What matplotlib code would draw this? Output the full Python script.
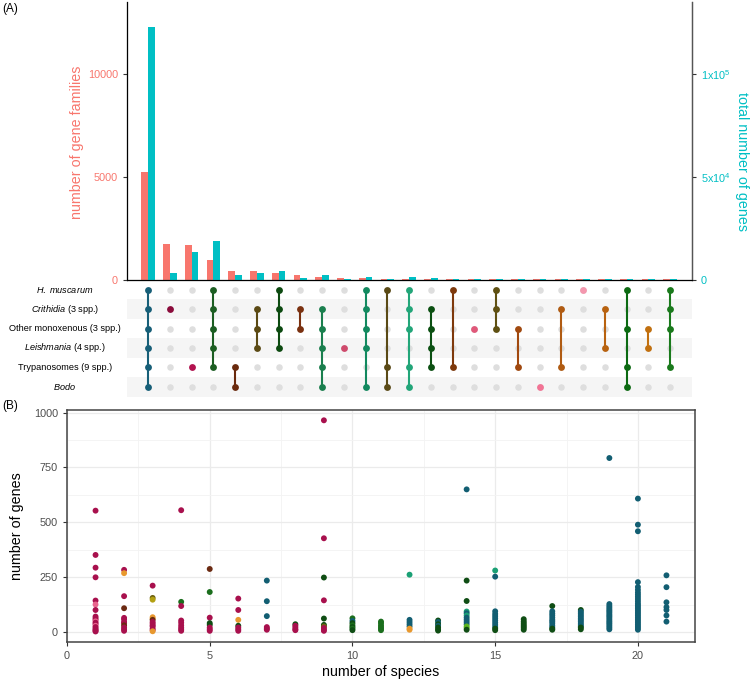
import numpy as np
import matplotlib
matplotlib.use("Agg")
import matplotlib.pyplot as plt
from matplotlib.ticker import MultipleLocator

plt.rcParams['font.family'] = ['Liberation Sans', 'DejaVu Sans']
plt.rcParams['mathtext.fontset'] = 'custom'
plt.rcParams['mathtext.rm'] = 'Liberation Sans'
plt.rcParams['mathtext.it'] = 'Liberation Sans:italic'

# --- data: upset part ---
set_labels = [r'$\it{H.\ muscarum}$', r'$\it{Crithidia}$ (3 spp.)', 'Other monoxenous (3 spp.)',
              r'$\it{Leishmania}$ (4 spp.)', 'Trypanosomes (9 spp.)', r'$\it{Bodo}$']

# rows: 0=H. muscarum, 1=Crithidia, 2=Other monoxenous, 3=Leishmania, 4=Trypanosomes, 5=Bodo
combos = [[0, 1, 2, 3, 4, 5], [1], [4], [0, 1, 2, 3, 4], [4, 5], [1, 2, 3], [0, 1, 2, 3], [1, 2],
          [1, 2, 3, 4, 5], [3], [0, 1, 2, 3, 5], [0, 4, 5], [0, 1, 2, 4, 5], [1, 2, 3, 4], [0, 4],
          [2], [0, 1, 2], [2, 4], [5], [1, 4], [0], [1, 3], [0, 2, 4, 5], [2, 3], [0, 1, 2, 4]]

n_families = [5210, 1750, 1655, 925, 405, 390, 325, 230, 115, 80, 65, 35, 30, 28, 25,
              22, 20, 18, 15, 13, 10, 7, 5, 4, 3]
n_genes = [122700, 3400, 13150, 18500, 2300, 3100, 3900, 600, 2400, 100, 1400, 350, 1000, 600, 150,
           30, 100, 60, 20, 50, 10, 60, 150, 30, 120]

combo_colors = ['#175f78', '#8b0b3b', '#b3124f', '#1c5e22', '#6a2a0d', '#5b4a14', '#0c4a10', '#7b3110',
                '#1a7f4e', '#cf4a6c', '#12895f', '#5a4a16', '#22a679', '#0b5012', '#7e390c', '#e0587a',
                '#5f5012', '#a1490f', '#f27495', '#b05b12', '#f497ae', '#b8620f', '#0c6a12', '#c2700f',
                '#1a7a1c']

# --- data: scatter part (number of species per family vs genes in family) ---
pal = {'crimson': '#a8104d', 'pink': '#e8658e', 'orange': '#e8982e', 'brown': '#6b2a12',
       'olive': '#6e6212', 'yellow': '#b3a012', 'green': '#1b6e1d', 'dkgreen': '#0f4d14',
       'teal': '#125e72', 'tealgreen': '#1aa075', 'ltgreen': '#5ab41e'}

sp_x = ([1] * 19 + [2] * 12 + [3] * 13 + [4] * 9 + [5] * 8 + [6] * 7 + [7] * 6 + [8] * 5 + [9] * 10
        + [10] * 7 + [11] * 6 + [12] * 7 + [13] * 7 + [14] * 13 + [15] * 12 + [16] * 7 + [17] * 12
        + [18] * 13 + [19] * 17 + [20] * 27 + [21] * 7)
sp_genes = [553, 351, 293, 249, 143, 125, 100, 70, 62, 55, 48, 42, 35, 28, 22, 15, 10, 5, 2,
            283, 268, 163, 108, 64, 57, 45, 40, 30, 20, 12, 5,
            211, 155, 147, 67, 60, 55, 45, 38, 30, 25, 15, 8, 3,
            555, 137, 118, 52, 42, 30, 20, 12, 5,
            287, 182, 65, 40, 32, 20, 12, 5,
            152, 100, 55, 28, 20, 12, 5,
            234, 140, 72, 22, 15, 10,
            35, 28, 20, 12, 8,
            965, 427, 248, 144, 61, 32, 25, 18, 10, 5,
            62, 50, 40, 30, 22, 15, 8,
            47, 40, 30, 22, 15, 8,
            261, 55, 45, 35, 25, 15, 10,
            52, 45, 35, 28, 20, 12, 6,
            650, 234, 141, 93, 85, 75, 65, 55, 45, 35, 25, 18, 10,
            280, 252, 94, 82, 72, 62, 52, 42, 32, 22, 15, 8,
            58, 48, 40, 32, 25, 18, 10,
            118, 94, 84, 75, 65, 55, 48, 40, 30, 22, 15, 10,
            100, 92, 85, 77, 70, 62, 55, 48, 40, 32, 25, 20, 12,
            793, 127, 118, 110, 102, 95, 88, 80, 73, 66, 58, 50, 43, 36, 28, 20, 12,
            608, 489, 459, 227, 205, 192, 180, 170, 160, 150, 140, 130, 122, 114, 106, 98, 90, 82,
            74, 66, 58, 50, 42, 34, 26, 18, 10,
            258, 204, 135, 113, 100, 75, 47]
sp_group = (['crimson'] * 5 + ['pink'] + ['crimson'] * 4 + ['pink'] + ['crimson'] * 2 + ['pink'] + ['crimson'] * 5
            + ['crimson', 'orange', 'crimson', 'brown'] + ['crimson'] * 4 + ['brown'] + ['crimson'] * 3
            + ['crimson', 'olive', 'yellow', 'orange', 'orange', 'brown'] + ['crimson'] * 6 + ['orange']
            + ['crimson', 'green'] + ['crimson'] * 7
            + ['brown', 'green', 'crimson', 'dkgreen', 'dkgreen', 'crimson', 'crimson', 'crimson']
            + ['crimson', 'crimson', 'orange', 'dkgreen', 'crimson', 'crimson', 'crimson']
            + ['teal'] * 3 + ['crimson'] * 3
            + ['dkgreen', 'crimson', 'crimson', 'crimson', 'crimson']
            + ['crimson', 'crimson', 'dkgreen', 'crimson', 'dkgreen', 'dkgreen', 'olive', 'crimson', 'crimson', 'crimson']
            + ['green', 'teal', 'dkgreen', 'green', 'dkgreen', 'green', 'dkgreen']
            + ['green'] * 6
            + ['tealgreen', 'teal', 'teal', 'teal', 'teal', 'orange', 'orange']
            + ['dkgreen', 'teal', 'dkgreen', 'teal', 'dkgreen', 'dkgreen', 'dkgreen']
            + ['teal', 'dkgreen', 'dkgreen', 'tealgreen', 'teal', 'tealgreen', 'teal', 'teal', 'teal', 'teal',
               'ltgreen', 'ltgreen', 'dkgreen']
            + ['tealgreen', 'teal'] + ['teal'] * 8 + ['dkgreen', 'dkgreen']
            + ['dkgreen'] * 7
            + ['dkgreen'] + ['teal'] * 9 + ['dkgreen', 'dkgreen']
            + ['dkgreen'] + ['teal'] * 10 + ['dkgreen', 'dkgreen']
            + ['teal'] * 17
            + ['teal'] * 27
            + ['teal'] * 7)

W, H = 750, 680
fig = plt.figure(figsize=(W / 100, H / 100), dpi=100)


def box(x0, y0, x1, y1):
    # pixel box (top-left origin) -> figure fraction
    return [x0 / W, 1 - y1 / H, (x1 - x0) / W, (y1 - y0) / H]


red, cyan = '#F8766D', '#00BFC4'
xs = np.arange(len(combos))
xl = (-0.97, 25.0)

# bars
ax = fig.add_axes(box(127, 2, 692, 279.5))
ax.bar(xs - 0.155, n_families, width=0.31, color=red)
ax.set_xlim(*xl)
ax.set_ylim(0, 13500)
ax.set_yticks([0, 5000, 10000])
ax.tick_params(axis='y', colors='#333333', labelcolor=red, labelsize=7.8, length=3, width=0.8)
ax.set_xticks([])
ax.spines['top'].set_visible(False)
for s in ['left', 'right', 'bottom']:
    ax.spines[s].set_color('#555555')
    ax.spines[s].set_linewidth(0.9)
ax2 = ax.twinx()
ax2.bar(xs + 0.155, n_genes, width=0.31, color=cyan)
ax2.set_ylim(0, 135000)
ax2.set_yticks([0, 50000, 100000])
ax2.set_yticklabels(['0', r'5x10$^4$', r'1x10$^5$'])
ax2.tick_params(axis='y', colors='#333333', labelcolor=cyan, labelsize=7.8, length=3, width=0.8)
ax2.spines['top'].set_visible(False)
ax2.spines['right'].set_color('#555555')
ax2.spines['right'].set_linewidth(0.9)
ax2.set_xlim(*xl)
fig.text(77 / W, 1 - 142 / H, 'number of gene families', color=red, fontsize=10.3,
         rotation=90, ha='center', va='center')
fig.text(742 / W, 1 - 162 / H, 'total number of genes', color=cyan, fontsize=10.3,
         rotation=270, ha='center', va='center')
fig.text(2 / W, 1 - 9 / H, '(A)', fontsize=8.5, ha='left', va='center')

# matrix
axm = fig.add_axes(box(127, 280, 692, 396.5))
axm.set_xlim(*xl)
axm.set_ylim(5.5, -0.5)
axm.axis('off')
for i in [1, 3, 5]:
    axm.axhspan(i - 0.5, i + 0.5, color='#f5f5f5', zorder=0, lw=0)
for j, rows in enumerate(combos):
    axm.scatter([j] * 6, range(6), s=22, color='#dedede', zorder=1, lw=0)
    axm.plot([j, j], [min(rows), max(rows)], color=combo_colors[j], lw=1.5, zorder=2,
             solid_capstyle='butt')
    axm.scatter([j] * len(rows), rows, s=24, color=combo_colors[j], zorder=3, lw=0)
for i, lab in enumerate(set_labels):
    y_px = 289.7 + i * 19.42
    fig.text(65 / W, 1 - y_px / H, lab, fontsize=6.6, ha='center', va='center')

# scatter
axs = fig.add_axes(box(67, 410, 695, 642))
axs.scatter(sp_x, sp_genes, s=18, c=[pal[g] for g in sp_group], lw=0, zorder=3)
axs.set_xlim(0, 22)
axs.set_ylim(-46, 1012)
axs.set_xticks([0, 5, 10, 15, 20])
axs.set_yticks([0, 250, 500, 750, 1000])
axs.xaxis.set_minor_locator(MultipleLocator(2.5))
axs.yaxis.set_minor_locator(MultipleLocator(125))
axs.grid(which='major', color='#ebebeb', lw=0.9, zorder=0)
axs.grid(which='minor', color='#f3f3f3', lw=0.6, zorder=0)
axs.set_axisbelow(True)
axs.tick_params(which='major', colors='#333333', labelcolor='#4d4d4d', labelsize=7.8, length=3, width=0.8)
axs.tick_params(which='minor', length=0)
for s in axs.spines.values():
    s.set_color('#444444')
    s.set_linewidth(1.1)
axs.set_xlabel('number of species', fontsize=10.3, labelpad=3)
axs.set_ylabel('number of genes', fontsize=10.3, labelpad=7)
fig.text(2 / W, 1 - 406 / H, '(B)', fontsize=8.5, ha='left', va='center')

fig.savefig('out.png', dpi=100)
